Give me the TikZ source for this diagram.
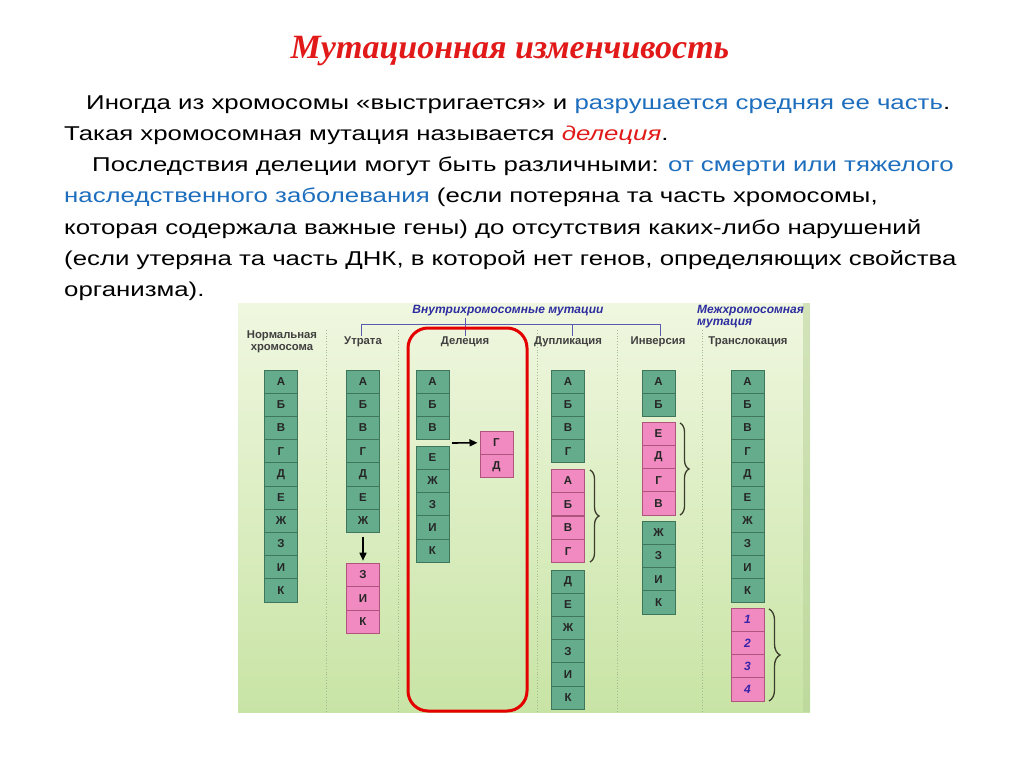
\documentclass[tikz,border=0pt]{standalone}
\usepackage{fontspec}
\setmainfont{Liberation Sans}
\newfontfamily\serifbi{Liberation Serif}
\newfontfamily\bodyfont[FakeStretch=1.29]{Liberation Sans}
\usetikzlibrary{decorations.pathreplacing,arrows.meta}
\definecolor{cellgreen}{RGB}{100,172,140}
\definecolor{cellborder}{RGB}{62,118,92}
\definecolor{cellpink}{RGB}{240,138,192}
\definecolor{pinkborder}{RGB}{175,85,125}
\definecolor{txtblue}{RGB}{30,110,190}
\definecolor{txtred}{RGB}{225,25,25}
\definecolor{hdrblue}{RGB}{45,45,160}
\definecolor{brk}{RGB}{90,90,175}
\definecolor{panelTop}{RGB}{240,247,224}
\definecolor{panelBot}{RGB}{200,228,165}
\definecolor{sep}{RGB}{165,185,145}
\definecolor{bracecol}{RGB}{60,60,45}
\definecolor{numcol}{RGB}{55,35,170}
\newcommand\chromcol[6]{\foreach \L [count=\i] in {#5}{\node[#6] (#1\i) at (#2,{#3+(\i-0.5)*#4}) {\L};}}
\begin{document}
\begin{tikzpicture}[x=1pt,y=-1pt,
  cell/.style={draw=cellborder, fill=cellgreen, line width=1pt, minimum width=33pt, minimum height=23.2pt, inner sep=0pt, font=\fontsize{11.5}{11.5}\selectfont\bfseries, text=black!85},
  pcell/.style={cell, fill=cellpink, draw=pinkborder},
  ncell/.style={pcell, font=\fontsize{12}{12}\selectfont\bfseries\itshape, text=numcol},
  body/.style={anchor=base west, inner sep=0pt, font=\fontsize{20}{24}\bodyfont},
  colhdr/.style={font=\fontsize{11.3}{11.5}\selectfont\bfseries, text=black!75, align=center, inner sep=0pt},
  grphdr/.style={font=\fontsize{12}{12}\selectfont\bfseries\itshape, text=hdrblue, inner sep=0pt},
  arr/.style={line width=1.6pt, -{Triangle[length=8pt,width=7pt]}},
  brc/.style={decorate, decoration={brace, amplitude=9pt}, draw=bracecol, line width=1.3pt},
  sepl/.style={draw=sep, line width=0.8pt, dotted}]
\useasboundingbox (0,0) rectangle (1024,767);
\fill[white] (0,0) rectangle (1024,767);
% title
\node[font=\fontsize{34}{36}\selectfont\serifbi\bfseries\itshape, text=txtred, anchor=base, inner sep=0pt] (title) at (510,59) {Мутационная изменчивость};
% body text
\node[body] (l1) at (86,110) {Иногда из хромосомы «выстригается» и {\color{txtblue}разрушается средняя ее часть}.};
\node[body] (l2) at (64,141) {Такая хромосомная мутация называется {\color{txtred}\itshape делеция}.};
\node[body] (l3) at (92,172) {Последствия делеции могут быть различными: {\color{txtblue}от смерти или тяжелого}};
\node[body] (l4) at (64,203) {{\color{txtblue}наследственного заболевания} (если потеряна та часть хромосомы,};
\node[body] (l5) at (64,234) {которая содержала важные гены) до отсутствия каких-либо нарушений};
\node[body] (l6) at (64,265) {(если утеряна та часть ДНК, в которой нет генов, определяющих свойства};
\node[body] (l7) at (64,296) {организма).};
% panel
\shade[top color=panelTop, bottom color=panelBot] (238,303) rectangle (810,712);
\fill[panelBot!85!black!60!panelBot, opacity=0.5] (803,303) rectangle (810,712);
% separators
\foreach \sx in {326,398,537,617,702} \draw[sepl] (\sx,330) -- (\sx,712);
% group headers
\node[grphdr] (gin) at (508,311) {Внутрихромосомные мутации};
\node[grphdr, anchor=west] (gex1) at (697,311) {Межхромосомная};
\node[grphdr, anchor=west] (gex2) at (697,324) {мутация};
\draw[brk, line width=1pt] (361,336) -- (361,324) -- (660,324) -- (660,336);
\draw[brk, line width=1pt] (465,318) -- (465,336);
\draw[brk, line width=1pt] (572,324) -- (572,336);
% column headers
\node[colhdr] (h1) at (282,342) {Нормальная\\хромосома};
\node[colhdr] (h2) at (363,342) {Утрата};
\node[colhdr] (h3) at (465,342) {Делеция};
\node[colhdr] (h4) at (568,342) {Дупликация};
\node[colhdr] (h5) at (658,342) {Инверсия};
\node[colhdr] (h6) at (748,342) {Транслокация};
% red box
\draw[red!90!black, line width=3pt, rounded corners=20pt] (408,328) rectangle (527,711);
% normal
\chromcol{n}{281}{370}{23.2}{А,Б,В,Г,Д,Е,Ж,З,И,К}{cell}
% loss
\chromcol{u}{363}{370}{23.2}{А,Б,В,Г,Д,Е,Ж}{cell}
\chromcol{up}{363}{563}{23.6}{З,И,К}{pcell}
\draw[arr, shorten <=4pt, shorten >=2pt] (u7.south) -- (up1.north);
% deletion
\chromcol{d}{432.5}{370}{23.2}{А,Б,В}{cell}
\chromcol{de}{432.5}{446}{23.3}{Е,Ж,З,И,К}{cell}
\chromcol{dp}{496.5}{431}{23.5}{Г,Д}{pcell}
\coordinate (dcut) at (452,443);
\draw[arr, shorten >=2pt] (dcut) -- (dp1.west);
% duplication
\chromcol{p}{568}{370}{23.2}{А,Б,В,Г}{cell}
\chromcol{pp}{568}{469}{23.5}{А,Б,В,Г}{pcell}
\chromcol{pq}{568}{570}{23.2}{Д,Е,Ж,З,И,К}{cell}
\draw[brc] (590,470) -- (590,562);
% inversion
\chromcol{i}{658.5}{370}{23.2}{А,Б}{cell}
\chromcol{ip}{658.5}{422}{23.3}{Е,Д,Г,В}{pcell}
\chromcol{iq}{658.5}{521}{23.3}{Ж,З,И,К}{cell}
\draw[brc] (680,423) -- (680,515);
% translocation
\chromcol{t}{747.5}{370}{23.2}{А,Б,В,Г,Д,Е,Ж,З,И,К}{cell}
\chromcol{tp}{747.5}{608}{23.3}{1,2,3,4}{ncell}
\draw[brc, decoration={amplitude=11pt}] (769,609) -- (769,701);
\end{tikzpicture}
\end{document}
